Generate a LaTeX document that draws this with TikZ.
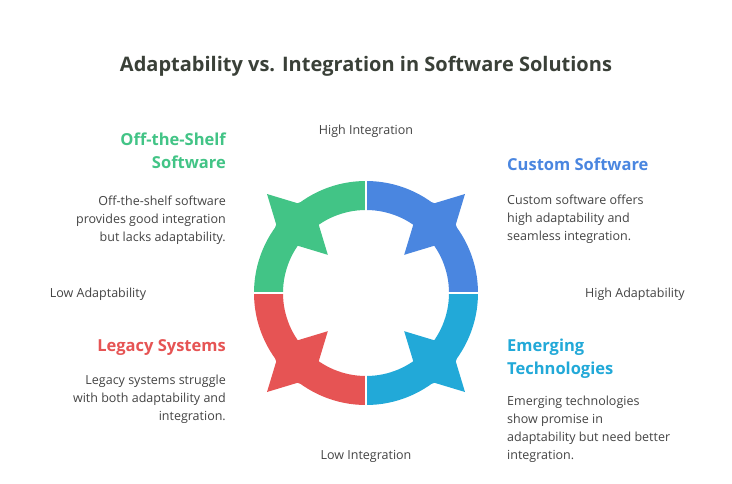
\documentclass[tikz,border=0pt]{standalone}
\usepackage{fontspec}
\usetikzlibrary{calc}
\setmainfont{Open Sans}
\begin{document}
\begin{tikzpicture}[x=1pt,y=-1pt]
\definecolor{cg}{HTML}{42C486}\definecolor{cb}{HTML}{4A86E0}
\definecolor{cc}{HTML}{22A9D8}\definecolor{cr}{HTML}{E65454}
\definecolor{tx}{HTML}{444444}\definecolor{tt}{HTML}{3A4038}
\tikzset{lab/.style={font=\fontsize{12.5}{18}\selectfont,text=tx,inner sep=0},
 body/.style={lab,align=#1},
 head/.style={font=\fontsize{16.5}{23}\selectfont\bfseries,inner sep=0}}
\useasboundingbox[fill=white] (0,0) rectangle (732,483);
\node[font=\fontsize{20}{26}\selectfont\bfseries,text=tt] (title) at (366,66) {Adaptability vs. Integration in Software Solutions};
\def\R{112}\def\r{83}
\foreach \col/\a in {cb/0,cg/90,cr/180,cc/270}{
  \fill[\col] ($(366,293)+(-\a:\R)$) arc[start angle=-\a,end angle=-\a-90,radius=\R] -- ($(366,293)+(-\a-90:\r)$) arc[start angle=-\a-90,end angle=-\a,radius=\r] -- cycle;
  \begin{scope}[shift={($(366,293)+(-\a-45:97)$)},rotate=45]
  \fill[\col] (43,0) -- (15,15) -- (0,43) -- (-15,15) -- (-43,0) -- (-15,-15) -- (0,-43) -- (15,-15) -- cycle;
  \end{scope}
}
\draw[white,line width=1.5] (366,175) -- (366,411) (248,293) -- (484,293);
\node[lab] (hi) at (366,131) {High Integration};
\node[lab] (li) at (366,456) {Low Integration};
\node[lab] (la) at (98,294) {Low Adaptability};
\node[lab] (ha) at (635,294) {High Adaptability};
\node[head,text=cg,anchor=north east,align=right] (h1) at (226,133) {Off-the-Shelf\\Software};
\node[body=right,anchor=north east] (b1) at (226,196) {Off-the-shelf software\\provides good integration\\but lacks adaptability.};
\node[head,text=cr,anchor=north east] (h2) at (226,339) {Legacy Systems};
\node[body=right,anchor=north east] (b2) at (226,375) {Legacy systems struggle\\with both adaptability and\\integration.};
\node[head,text=cb,anchor=north west] (h3) at (507,158) {Custom Software};
\node[body=left,anchor=north west] (b3) at (507,195) {Custom software offers\\high adaptability and\\seamless integration.};
\node[head,anchor=north west,align=left,text=cc] (h4) at (507,339) {Emerging\\Technologies};
\node[body=left,anchor=north west] (b4) at (507,396) {Emerging technologies\\show promise in\\adaptability but need better\\integration.};
\end{tikzpicture}
\end{document}
